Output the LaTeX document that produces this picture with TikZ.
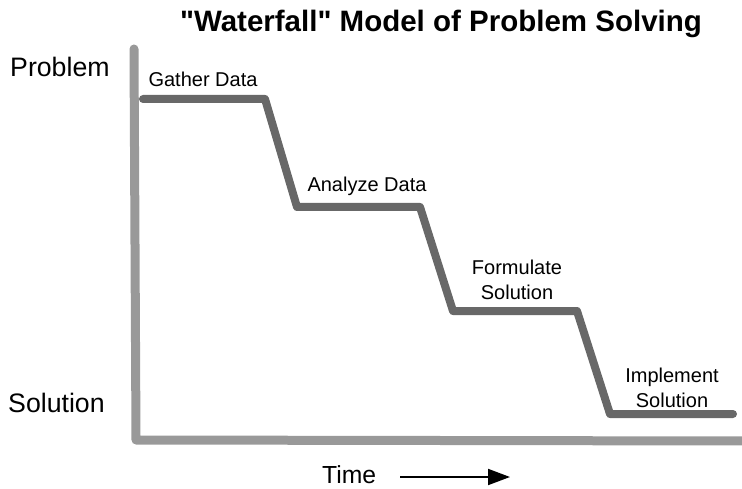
\documentclass[tikz,border=0pt]{standalone}
\usepackage{fontspec}
\setmainfont{Liberation Sans}[Ligatures=TeXOff]
\usetikzlibrary{arrows.meta}
\definecolor{axisgray}{HTML}{999999}
\definecolor{fallgray}{HTML}{686868}
\begin{document}
\begin{tikzpicture}[x=1pt,y=-1pt,
  axisline/.style={draw=axisgray,line width=9pt,line join=round,line cap=round},
  fallline/.style={draw=fallgray,line width=8pt,line join=round,line cap=round},
  steplabel/.style={inner sep=0pt,anchor=base,font=\fontsize{20}{25}\selectfont},
  sidelabel/.style={inner sep=0pt,anchor=base west,font=\fontsize{26.7}{32}\selectfont},
]
\useasboundingbox (0,0) rectangle (742,489);
% title
\node[inner sep=0pt,anchor=base,font=\bfseries\fontsize{29.5}{35}\selectfont] (title) at (441,32) {"Waterfall" Model of Problem Solving};
% axes
\coordinate (ytop) at (134,49);
\coordinate (origin) at (136,440);
\coordinate (xend) at (746,441);
\draw[axisline] (ytop) -- (origin) -- (xend);
% axis labels
\node[sidelabel] (problem) at (10,77) {Problem};
\node[sidelabel] (solution) at (8,412) {Solution};
\node[inner sep=0pt,anchor=base west,font=\fontsize{24.7}{30}\selectfont] (time) at (322,483) {Time};
\coordinate (tstart) at (400,477);
\coordinate (tend) at (510,477);
\draw[line width=2pt,-{Triangle[length=22pt,width=16pt]}] (tstart) -- (tend);
% waterfall
\coordinate (a1) at (143,99);
\coordinate (a2) at (265,99);
\coordinate (b1) at (297,207);
\coordinate (b2) at (420,207);
\coordinate (c1) at (453,311);
\coordinate (c2) at (577,311);
\coordinate (d1) at (610,414);
\coordinate (d2) at (733,414);
\draw[fallline] (a1) -- (a2) -- (b1) -- (b2) -- (c1) -- (c2) -- (d1) -- (d2);
% step labels
\node[steplabel] (gather) at (203,87) {Gather Data};
\node[steplabel] (analyze) at (367,192) {Analyze Data};
\node[steplabel] (formulate) at (517,275) {\begin{tabular}[t]{@{}c@{}}Formulate\\Solution\end{tabular}};
\node[steplabel] (implement) at (672,382) {\begin{tabular}[t]{@{}c@{}}Implement\\Solution\end{tabular}};
\end{tikzpicture}
\end{document}
